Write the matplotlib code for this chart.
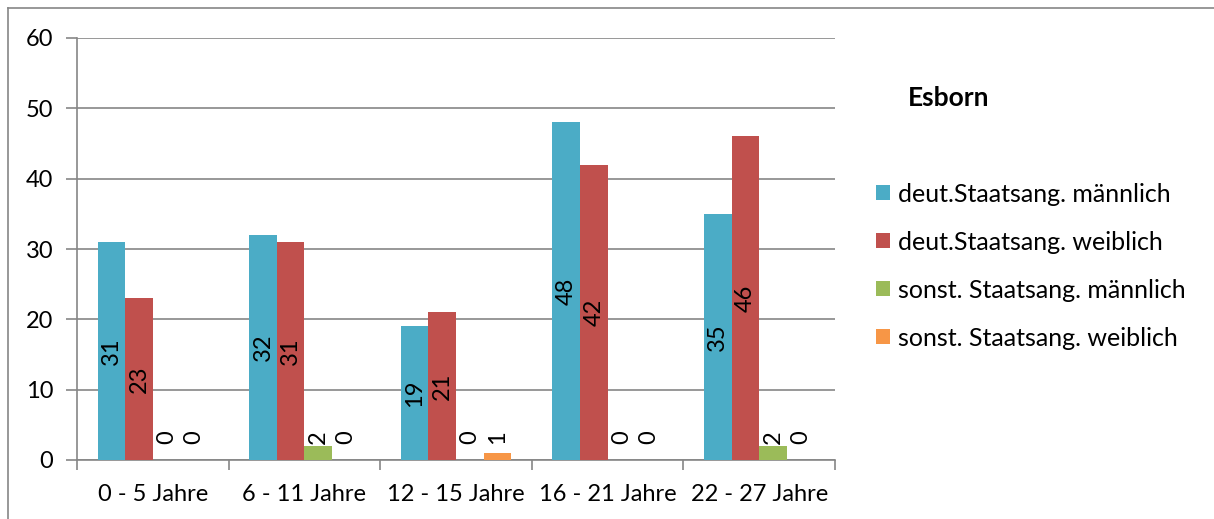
import numpy as np
import matplotlib.pyplot as plt
from matplotlib.lines import Line2D

plt.rcParams['font.family'] = ['Lato', 'DejaVu Sans']

categories = ["0 - 5 Jahre", "6 - 11 Jahre", "12 - 15 Jahre", "16 - 21 Jahre", "22 - 27 Jahre"]
series_names = ["deut.Staatsang. männlich", "deut.Staatsang. weiblich",
                "sonst. Staatsang. männlich", "sonst. Staatsang. weiblich"]
deut_m = [31, 32, 19, 48, 35]
deut_w = [23, 31, 21, 42, 46]
sonst_m = [0, 2, 0, 0, 2]
sonst_w = [0, 0, 1, 0, 0]
colors = ["#4BACC6", "#C0504D", "#9BBB59", "#F79646"]
legend_title = "Esborn"

fig = plt.figure(figsize=(12.14, 5.19), dpi=100)
ax = fig.add_axes([77 / 1214, 59 / 519, 758 / 1214, 422 / 519])

x = np.arange(len(categories))
w = 0.182
series = [deut_m, deut_w, sonst_m, sonst_w]
for i, vals in enumerate(series):
    pos = x + (i - 1.5) * w
    ax.bar(pos, vals, width=w, color=colors[i], label=series_names[i], zorder=3)
    for p, v in zip(pos, vals):
        if v >= 6:
            ax.text(p, v / 2, str(v), rotation=90, ha='center', va='center',
                    fontsize=17, zorder=4)
        else:
            ax.text(p, 2.3, str(v), rotation=90, ha='center', va='bottom',
                    fontsize=17, zorder=4)

ax.set_xlim(-0.5, len(categories) - 0.5)
ax.set_ylim(0, 60)
ax.set_yticks(range(0, 61, 10))
ax.set_xticks(x)
ax.set_xticklabels(categories)
ax.set_xticks(np.arange(-0.5, len(categories), 1), minor=True)
ax.tick_params(axis='x', which='major', length=0, pad=17, labelsize=17)
ax.tick_params(axis='x', which='minor', length=7, color='#868686', width=1.2)
ax.tick_params(axis='y', length=8, color='#868686', width=1.2, labelsize=17, pad=9)
ax.grid(axis='y', color='#868686', linewidth=1.2, zorder=0)
for s in ['top', 'right']:
    ax.spines[s].set_visible(False)
for s in ['left', 'bottom']:
    ax.spines[s].set_color('#868686')
    ax.spines[s].set_linewidth(1.2)

leg = fig.legend(*ax.get_legend_handles_labels(), loc='center left',
                 bbox_to_anchor=(876 / 1214, 1 - 266 / 519), frameon=False,
                 fontsize=18, handlelength=0.55, handleheight=0.55, handletextpad=0.35,
                 labelspacing=1.0, borderaxespad=0, borderpad=0)
fig.text(908 / 1214, 1 - 98 / 519, legend_title, fontsize=19, fontweight='bold',
         ha='left', va='center')

# outer chart border
fig.add_artist(Line2D([8 / 1214, 1], [1 - 8 / 519, 1 - 8 / 519], color='#868686', lw=1.2))
fig.add_artist(Line2D([8 / 1214, 8 / 1214], [0, 1 - 8 / 519], color='#868686', lw=1.2))

fig.savefig("out.png", dpi=100)
